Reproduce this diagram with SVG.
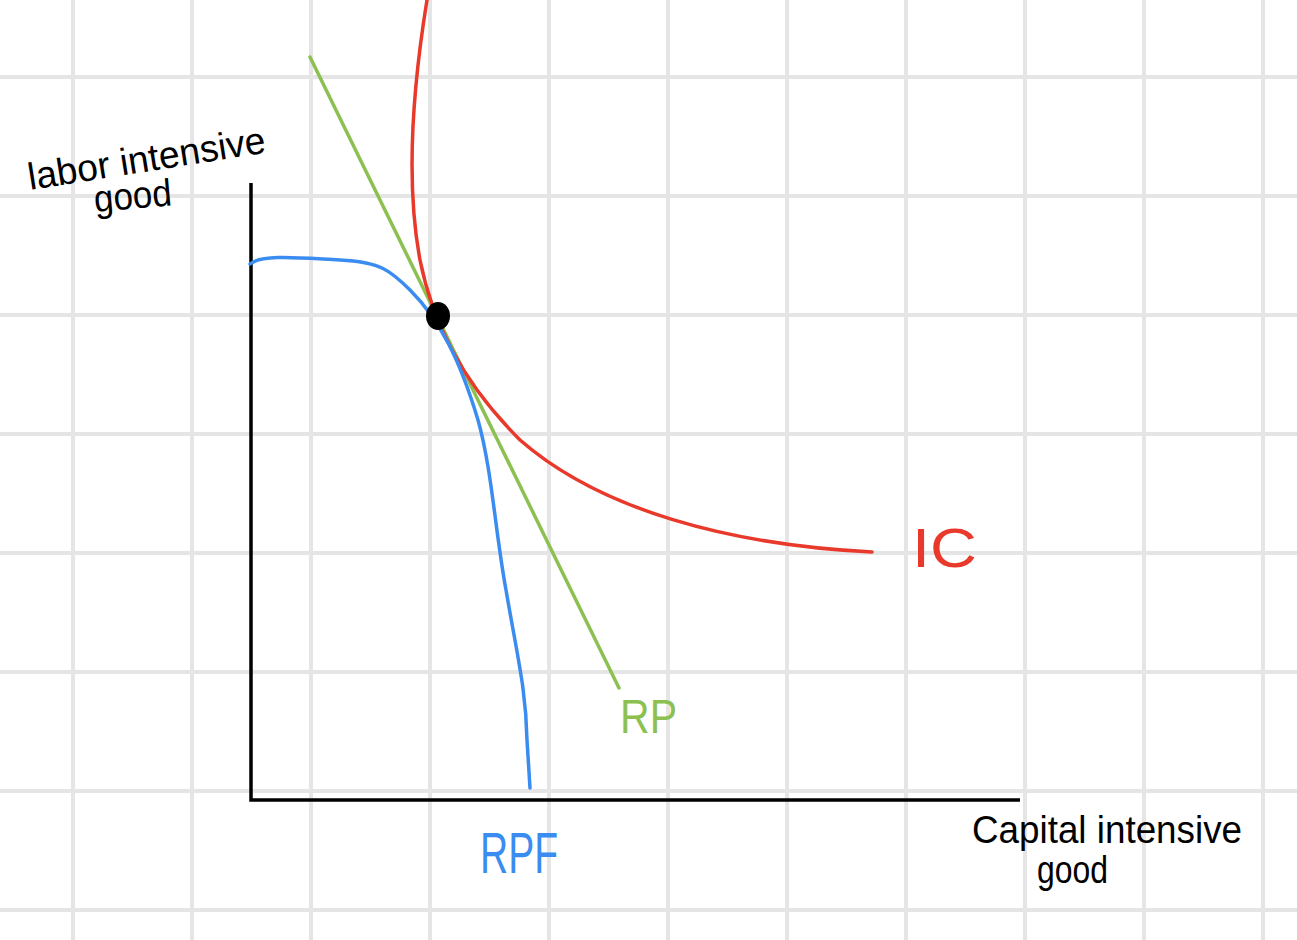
<svg xmlns="http://www.w3.org/2000/svg" width="1297" height="940" viewBox="0 0 1297 940">
<style>
.grid line{stroke:#e5e5e5;stroke-width:4}
.axis{stroke:#000;stroke-width:3.5;fill:none}
.t{font-family:"Liberation Sans",sans-serif;fill:#000}
</style>
<rect width="1297" height="940" fill="#fff"/>
<g class="grid" id="grid">
<line x1="73" y1="0" x2="73" y2="940"/><line x1="192" y1="0" x2="192" y2="940"/><line x1="311" y1="0" x2="311" y2="940"/><line x1="430" y1="0" x2="430" y2="940"/><line x1="549" y1="0" x2="549" y2="940"/><line x1="668" y1="0" x2="668" y2="940"/><line x1="787" y1="0" x2="787" y2="940"/><line x1="906" y1="0" x2="906" y2="940"/><line x1="1025" y1="0" x2="1025" y2="940"/><line x1="1144" y1="0" x2="1144" y2="940"/><line x1="1263" y1="0" x2="1263" y2="940"/>
<line x1="0" y1="77" x2="1297" y2="77"/><line x1="0" y1="196" x2="1297" y2="196"/><line x1="0" y1="315" x2="1297" y2="315"/><line x1="0" y1="434" x2="1297" y2="434"/><line x1="0" y1="553" x2="1297" y2="553"/><line x1="0" y1="672" x2="1297" y2="672"/><line x1="0" y1="791" x2="1297" y2="791"/><line x1="0" y1="910" x2="1297" y2="910"/>
</g>
<g id="axes">
<path class="axis" d="M251,183 L251,800 L1020,800"/>
</g>
<g id="connectors" fill="none" stroke-width="3.5" stroke-linecap="round">
<path id="rp" d="M310,57 L619,688" stroke="#8cc152"/>
<path id="ic" d="M427,0 C414,80 405,180 420,260 C432,320 460,380 520,440 C600,510 730,545 872,552" stroke="#e8392b"/>
<path id="rpf" d="M250,264 C262,254 300,258 340,260 C380,262 390,270 410,290 C440,320 460,360 478,420 C492,470 495,530 506,590 C518,660 526,690 527,740 L530,788" stroke="#3b8cf0"/>
</g>
<g id="point">
<ellipse cx="438" cy="316" rx="12" ry="14" fill="#000"/>
</g>
<g id="labels">
<g transform="rotate(-9 30 190)"><text class="t" x="30" y="190" font-size="38" font-weight="500" textLength="240" lengthAdjust="spacingAndGlyphs">labor intensive</text></g>
<g transform="rotate(-5 95 212)"><text class="t" x="95" y="212" font-size="38" font-weight="500" textLength="78" lengthAdjust="spacingAndGlyphs">good</text></g>
<text class="t" x="972" y="843" font-size="38" font-weight="500" textLength="270" lengthAdjust="spacingAndGlyphs">Capital intensive</text>
<text class="t" x="1037" y="883" font-size="38" font-weight="500" textLength="71" lengthAdjust="spacingAndGlyphs">good</text>
<text class="t" x="480" y="873" font-size="58" style="fill:#3b8cf0" textLength="78" lengthAdjust="spacingAndGlyphs">RPF</text>
<text class="t" x="620" y="733" font-size="48" style="fill:#8cc152" textLength="57" lengthAdjust="spacingAndGlyphs">RP</text>
<text class="t" x="912" y="567" font-size="56" style="fill:#e8392b" textLength="65" lengthAdjust="spacingAndGlyphs">IC</text>
</g>
</svg>
